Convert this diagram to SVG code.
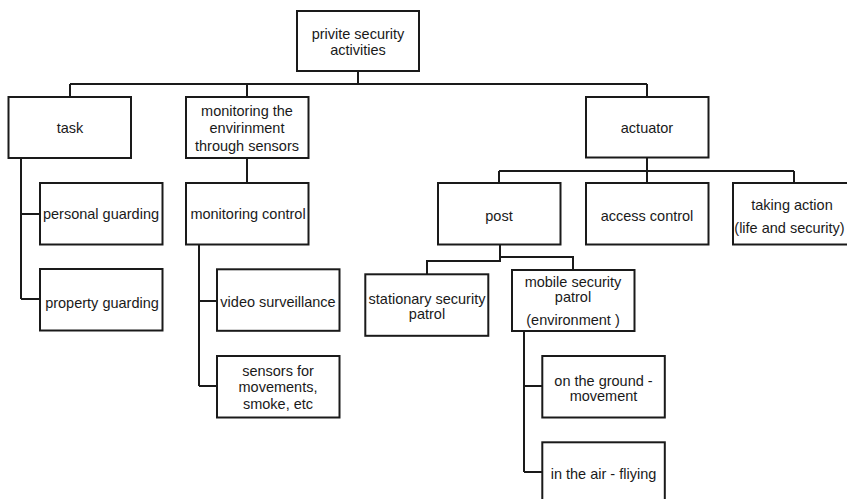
<svg xmlns="http://www.w3.org/2000/svg" width="847" height="499" viewBox="0 0 847 499">
<style>
rect{fill:#fff;stroke:#1a1a1a;stroke-width:2}
path{fill:none;stroke:#1a1a1a;stroke-width:2}
text{font-family:"Liberation Sans",Arial,sans-serif;font-size:14.5px;fill:#1a1a1a;text-anchor:middle}
</style>
<rect width="847" height="499" style="fill:#fff;stroke:none"/>
<g id="connectors">
<path d="M358,71V84M70,84H647M70,84V97M247,84V97M647,84V97"/>
<path d="M21,158V299M21,214H40M21,299H40"/>
<path d="M247,158V183"/>
<path d="M199,244.5V386M199,301H217M199,386H217"/>
<path d="M647,157.5V171M499,171H794M499,171V183M647,171V183M794,171V183"/>
<path d="M500,244.5V261H427V274.3M500,257H573V270"/>
<path d="M524,331V472M524,386H542.3M524,472H542.3"/>
</g>
<g id="root"><rect x="297" y="11" width="122" height="60"/><text x="358" y="39">privite security</text><text x="358" y="55">activities</text></g>
<g id="task"><rect x="8.5" y="97" width="122.5" height="61"/><text x="70" y="132.5">task</text></g>
<g id="monenv"><rect x="186" y="97" width="122.5" height="61"/><text x="247" y="116">monitoring the</text><text x="247" y="133">envirinment</text><text x="247" y="150.5">through sensors</text></g>
<g id="actuator"><rect x="586" y="97" width="122.5" height="60.5"/><text x="647" y="132.5">actuator</text></g>
<g id="personal"><rect x="40" y="183" width="122.5" height="61.5"/><text x="101" y="219">personal guarding</text></g>
<g id="monctrl"><rect x="186" y="183" width="122.5" height="61.5"/><text x="248" y="219">monitoring control</text></g>
<g id="property"><rect x="40" y="269" width="122.5" height="61.5"/><text x="102" y="307.5">property guarding</text></g>
<g id="video"><rect x="217" y="269.3" width="122.5" height="61.5"/><text x="278" y="306.5">video surveillance</text></g>
<g id="sensors"><rect x="217" y="356" width="122.5" height="61.5"/><text x="278" y="375.5">sensors for</text><text x="278" y="392">movements,</text><text x="278" y="409">smoke, etc</text></g>
<g id="post"><rect x="438" y="183" width="122.5" height="61.5"/><text x="499" y="221">post</text></g>
<g id="access"><rect x="586" y="183" width="122.5" height="61.5"/><text x="647" y="221">access control</text></g>
<g id="taking"><rect x="733" y="183" width="122.5" height="61.5"/><text x="792" y="210">taking action</text><text x="789.5" y="232.5">(life and security)</text></g>
<g id="stationary"><rect x="365.3" y="274.3" width="123" height="61.5"/><text x="427" y="303.5">stationary security</text><text x="427" y="318.5">patrol</text></g>
<g id="mobile"><rect x="512" y="270" width="122.5" height="61"/><text x="573" y="286.5">mobile security</text><text x="573" y="301.5">patrol</text><text x="573" y="325">(environment )</text></g>
<g id="ground"><rect x="542.3" y="356" width="122.5" height="61.5"/><text x="603.5" y="385.5">on the ground -</text><text x="603.5" y="400.5">movement</text></g>
<g id="air"><rect x="542.3" y="442.3" width="122.5" height="61.5"/><text x="603.5" y="479">in the air - fliying</text></g>
</svg>
